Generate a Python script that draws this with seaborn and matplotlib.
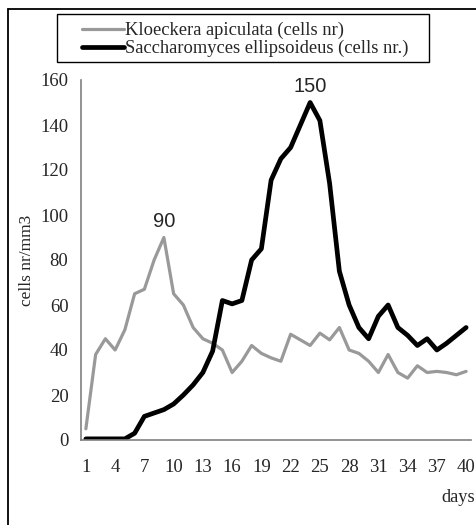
import numpy as np
import pandas as pd
import seaborn as sns
import matplotlib.pyplot as plt
from matplotlib.lines import Line2D
from matplotlib.patches import Rectangle

#%% data
days = list(range(1, 41))
kloeckera = [5, 38, 45, 40, 49, 65, 67, 80, 90, 65,
             60, 50, 45, 43, 40, 30, 35, 42, 38.5, 36.5,
             35, 47, 44.5, 42, 47.5, 44.5, 50, 40, 38.5, 35,
             30, 38, 30, 27.5, 33, 30, 30.5, 30, 29, 30.5]
saccharomyces = [0.5, 0.5, 0.5, 0.5, 0.5, 3, 10.5, 12, 13.5, 16,
                 20, 24.5, 30, 39.5, 62, 60.5, 62, 80, 85, 115.5,
                 125, 130, 140, 150, 142, 114, 75, 60, 50, 45,
                 55, 60, 50, 46.5, 42, 45, 40, 43, 46.5, 50]
names = ['Kloeckera apiculata (cells nr)', 'Saccharomyces ellipsoideus (cells nr.)']
peaks = [(9, 90), (24, 150)]

df = pd.DataFrame({'day': days, names[0]: kloeckera, names[1]: saccharomyces})

#%% plot
sns.set_style('white')
plt.rcParams['font.family'] = ['Liberation Serif', 'DejaVu Serif']

W, H = 477, 525
fig = plt.figure(figsize=(W / 100, H / 100), dpi=100)
ax = fig.add_axes([81 / W, 1 - 440 / H, (471 - 81) / W, (440 - 80) / H])

sns.lineplot(data=df, x='day', y=names[0], ax=ax, color='#999999', linewidth=2.3)
sns.lineplot(data=df, x='day', y=names[1], ax=ax, color='black', linewidth=3.4)

for d, v in peaks:
    ax.text(d, v + 3, str(v), ha='center', va='bottom', fontsize=14.5,
            family='Liberation Sans')

ax.set_xlim(0.5, 40.5)
ax.set_ylim(0, 160)
ax.set_xticks(days[::3])
ax.set_xticks(np.arange(0.5, 41, 1), minor=True)
ax.set_yticks(range(0, 161, 20))
ax.tick_params(axis='x', which='major', length=0, pad=14, labelsize=13.5)
ax.tick_params(axis='x', which='minor', length=4, direction='out', color='#808080', width=1)
ax.tick_params(axis='y', length=4, direction='out', color='#808080', width=1, pad=5, labelsize=13.5)
for s in ['top', 'right']:
    ax.spines[s].set_visible(False)
for s in ['left', 'bottom']:
    ax.spines[s].set_color('#808080')
    ax.spines[s].set_linewidth(1.2)

ax.set_xlabel('')
ax.set_ylabel('cells nr/mm3', fontsize=12.5)
ax.yaxis.set_label_coords(-0.118, 0.5)
fig.text(475 / W, 1 - 497 / H, 'days', ha='right', va='center', fontsize=13.2)

# legend box
fig.patches.append(Rectangle((57 / W, 1 - 62 / H), (429 - 57) / W, 48 / H,
                             transform=fig.transFigure, fill=False,
                             edgecolor='black', linewidth=1))
handles = [Line2D([], [], color='#999999', linewidth=2.3),
           Line2D([], [], color='black', linewidth=3.4)]
fig.legend(handles, names, loc='upper left', bbox_to_anchor=(69 / W, 1 - 9 / H),
           frameon=False, fontsize=13.3, handlelength=2.3, handletextpad=0.05,
           labelspacing=0.05, borderpad=0.2)

# outer frame (left and top edges)
fig.add_artist(Line2D([8 / W, 8 / W], [0, 1 - 9 / H], transform=fig.transFigure,
                      color='black', linewidth=1.3))
fig.add_artist(Line2D([8 / W, 1], [1 - 9 / H, 1 - 9 / H], transform=fig.transFigure,
                      color='black', linewidth=1.3))

fig.savefig('out.png', dpi=100)
